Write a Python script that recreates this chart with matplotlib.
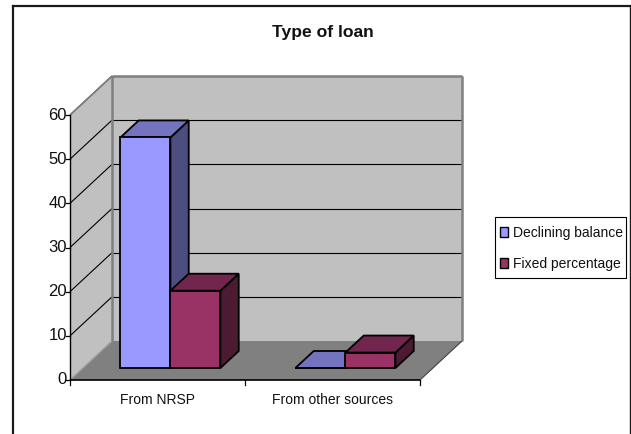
import matplotlib
matplotlib.use('Agg')
import matplotlib.pyplot as plt
from matplotlib.lines import Line2D
from matplotlib.patches import Patch, Polygon, Rectangle

categories = ['From NRSP', 'From other sources']
series_names = ['Declining balance', 'Fixed percentage']
declining = [52.2, 0]
fixed = [17.5, 3.5]
yticks = [0, 10, 20, 30, 40, 50, 60]

front_colors = ['#9999FF', '#993366']
top_colors = ['#7373BF', '#73264D']
side_colors = ['#4D4D80', '#4D1A33']

W, H = 631, 434
plt.rcParams['font.family'] = ['Liberation Sans', 'DejaVu Sans']

fig = plt.figure(figsize=(W / 100, H / 100), dpi=100)
# axes box is the front face of the 3d chart, everything else hangs off it
ax = fig.add_axes([70 / W, 1 - 380 / H, 350 / W, 265 / H])
ax.set_xlim(0, 2)
ax.set_ylim(0, 60)
ax.axis('off')

# depth vector in data units
DX = 42 / 175
DY = 39 / (265 / 60)


def pt(x, y, d=0.0):
    return (x + DX * d, y + DY * d)


def poly(points, fc, ec='none', lw=0, z=1):
    ax.add_patch(Polygon(points, closed=True, facecolor=fc, edgecolor=ec,
                         linewidth=lw, zorder=z, clip_on=False, joinstyle='miter'))


def line(a, b, color='black', lw=1.0, z=2):
    ax.plot([a[0], b[0]], [a[1], b[1]], color=color, lw=lw, zorder=z,
            clip_on=False, solid_capstyle='butt')


# walls and floor
poly([pt(0, 0, 1), pt(2, 0, 1), pt(2, 60, 1), pt(0, 60, 1)], '#C0C0C0')
poly([pt(0, 0), pt(0, 0, 1), pt(0, 60, 1), pt(0, 60)], '#C0C0C0')
poly([pt(0, 0), pt(2, 0), pt(2, 0, 1), pt(0, 0, 1)], '#808080')

for v in yticks[1:]:
    line(pt(0, v), pt(0, v, 1), lw=0.8)
    line(pt(0, v, 1), pt(2, v, 1), lw=0.8)

line(pt(0, 60), pt(0, 60, 1), '#808080', 1.2, 3)
line(pt(0, 60, 1), pt(2, 60, 1), '#808080', 1.8, 3)
line(pt(0, 0, 1), pt(0, 60, 1), '#808080', 1.8, 3)
line(pt(2, 0, 1), pt(2, 60, 1), '#808080', 1.8, 3)
line(pt(0, 0), pt(0, 0, 1), '#A0A0A0', 1.0, 3)
line(pt(2, 0), pt(2, 0, 1), '#404040', 0.8, 3)

# front axis lines and ticks
line(pt(0, 0), pt(0, 60), lw=1.0, z=4)
line(pt(0, 0), pt(2, 0), lw=1.2, z=4)
tr = ax.get_yaxis_transform()
for v in yticks:
    ax.plot([-4 / 350, 0], [v, v], transform=tr, color='black', lw=0.9, clip_on=False, zorder=4)
    ax.text(-3 / 350, v, str(v), transform=tr, ha='right', va='center', fontsize=12, color='#111111')
tr2 = ax.get_xaxis_transform()
for x in [0, 1, 2]:
    ax.plot([x, x], [0, -5 / 265], transform=tr2, color='black', lw=0.9, clip_on=False, zorder=4)
for i, c in enumerate(categories):
    ax.text(i + 0.5, -20 / 265, c, transform=tr2, ha='center', va='center', fontsize=10, color='#111111')

# bars
bar_w = 50 / 175
d0, d1 = 12 / 39, 29 / 39
z = 5
for s, vals in enumerate([declining, fixed]):
    for i, v in enumerate(vals):
        x0 = i + 0.5 - bar_w + s * bar_w
        x1 = x0 + bar_w
        poly([pt(x1, 0, d0), pt(x1, 0, d1), pt(x1, v, d1), pt(x1, v, d0)], side_colors[s], 'black', 1.3, z)
        poly([pt(x0, v, d0), pt(x1, v, d0), pt(x1, v, d1), pt(x0, v, d1)], top_colors[s], 'black', 1.3, z)
        poly([pt(x0, 0, d0), pt(x1, 0, d0), pt(x1, v, d0), pt(x0, v, d0)], front_colors[s], 'black', 1.3, z)
        z += 1

# chart area border, open at the bottom
for xs, ys, lw in [([13, 13], [6, 434], 2.2), ([13, 630], [6, 6], 2.2), ([630, 630], [6, 434], 1.4)]:
    fig.add_artist(Line2D([a / W for a in xs], [1 - b / H for b in ys], color='#1a1a1a', lw=lw * 0.72))

fig.text(323 / W, 1 - 32 / H, 'Type of loan', ha='center', va='center',
         fontsize=12.6, fontweight='bold', color='#111111')

# legend box drawn separately, the padding is wider than it is tall in the reference
fig.add_artist(Rectangle((495 / W, 1 - 278 / H), 131 / W, 61 / H, transform=fig.transFigure,
                         facecolor='white', edgecolor='black', linewidth=0.8, zorder=4))
handles = [Patch(facecolor=c, edgecolor='black', linewidth=1.0) for c in front_colors]
leg = fig.legend(handles, series_names, loc='upper left',
                 bbox_to_anchor=(500 / W, 1 - 226 / H), borderaxespad=0, borderpad=0,
                 fontsize=10, frameon=False, handlelength=0.6, handleheight=0.7,
                 handletextpad=0.35, labelspacing=1.2)
leg.set_zorder(5)
for t in leg.get_texts():
    t.set_color('#111111')

fig.savefig('out.png', dpi=100)
